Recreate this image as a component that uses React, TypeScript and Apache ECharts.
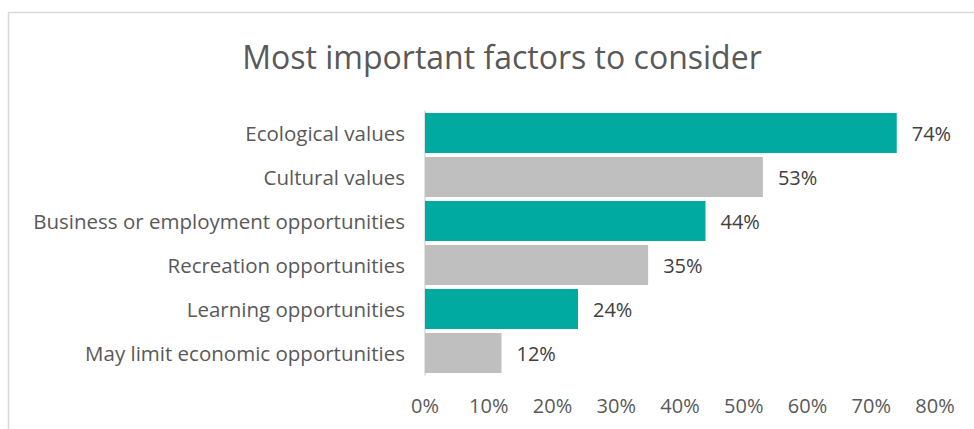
import React, { useEffect, useRef } from "react";
import * as echarts from "echarts";

const categories = [
  "Ecological values",
  "Cultural values",
  "Business or employment opportunities",
  "Recreation opportunities",
  "Learning opportunities",
  "May limit economic opportunities",
];
const values = [74, 53, 44, 35, 24, 12];
const barColors = ["#00AAA0", "#BFBFBF", "#00AAA0", "#BFBFBF", "#00AAA0", "#BFBFBF"];
const titleText = "Most important factors to consider";

export default function App() {
  const ref = useRef<HTMLDivElement>(null);
  useEffect(() => {
    document.body.style.margin = "0";
    if (!ref.current) return;
    const chart = echarts.init(ref.current, null, { renderer: "svg" });
    const font = "Open Sans, Noto Sans, sans-serif";
    chart.setOption({
      animation: false,
      backgroundColor: "#fff",
      title: {
        text: titleText,
        left: 497,
        textAlign: "center",
        top: 35,
        textStyle: { fontFamily: font, fontSize: 32, fontWeight: "normal", color: "#595959" },
      },
      graphic: [
        {
          type: "rect",
          shape: { x: 8.5, y: 12.5, width: 1000, height: 500 },
          style: { fill: "none", stroke: "#D9D9D9", lineWidth: 1.5 },
          silent: true,
        },
      ],
      grid: { left: 425, right: 39, top: 111, bottom: 54 },
      xAxis: {
        type: "value",
        min: 0,
        max: 80,
        interval: 10,
        axisLine: { show: false },
        axisTick: { show: false },
        splitLine: { show: false },
        axisLabel: {
          formatter: (v: number) => v + "%",
          fontFamily: font,
          fontSize: 20,
          color: "#595959",
          margin: 20,
        },
      },
      yAxis: {
        type: "category",
        data: categories,
        inverse: true,
        axisLine: { show: true, lineStyle: { color: "#D9D9D9", width: 1.5 } },
        axisTick: { show: false },
        axisLabel: {
          fontFamily: font,
          fontSize: 20.5,
          color: "#595959",
          margin: 20,
        },
      },
      series: [
        {
          type: "bar",
          data: values.map((v, i) => ({ value: v, itemStyle: { color: barColors[i] } })),
          barCategoryGap: "9%",
          label: {
            show: true,
            position: "right",
            distance: 15,
            formatter: (p: any) => p.value + "%",
            fontFamily: font,
            fontSize: 20,
            color: "#404040",
          },
        },
      ],
    });
    return () => chart.dispose();
  }, []);
  return <div ref={ref} style={{ width: 974, height: 429 }} />;
}
